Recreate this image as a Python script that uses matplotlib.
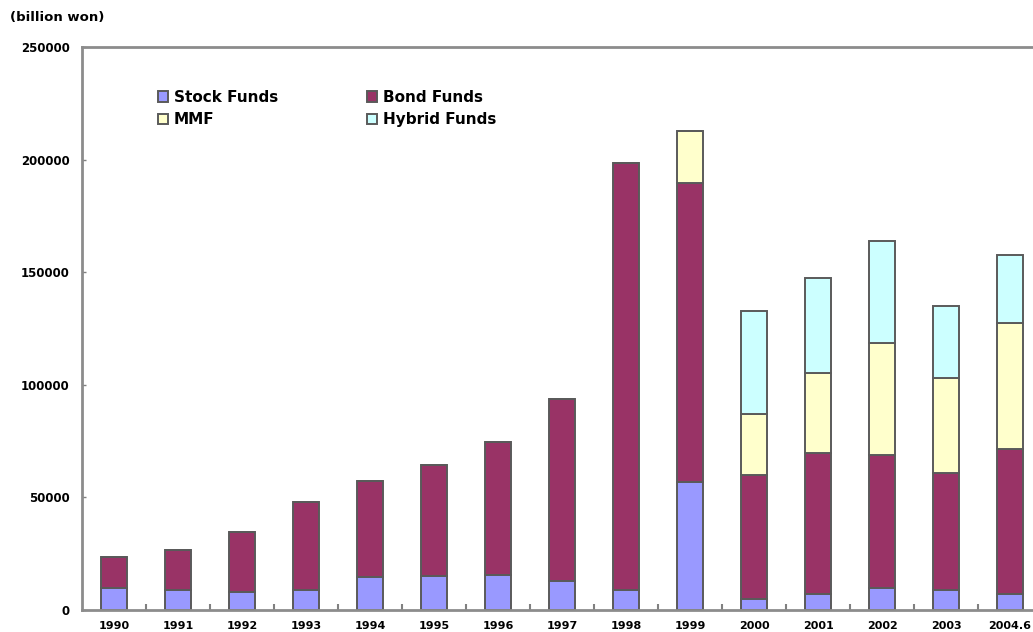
import matplotlib.pyplot as plt
import numpy as np

plt.rcParams['font.family'] = 'DejaVu Sans'
plt.rcParams['font.weight'] = 'bold'

years = ["1990", "1991", "1992", "1993", "1994", "1995", "1996", "1997",
         "1998", "1999", "2000", "2001", "2002", "2003", "2004.6"]

# fund balances, billion won
stock = [9900, 8900, 8100, 8900, 14800, 14900, 15500, 13000,
         8900, 56900, 4700, 7000, 9600, 8900, 7000]
bond = [13700, 17700, 26600, 39100, 42500, 49400, 59000, 80800,
        189800, 132700, 55400, 62700, 59400, 52000, 64500]
mmf = [0, 0, 0, 0, 0, 0, 0, 0,
       0, 23200, 26800, 35500, 49500, 42100, 55900]
hybrid = [0, 0, 0, 0, 0, 0, 0, 0,
          0, 0, 45800, 42300, 45200, 32200, 30300]

series = [("Stock Funds", stock, "#9999ff"),
          ("Bond Funds", bond, "#993366"),
          ("MMF", mmf, "#ffffcc"),
          ("Hybrid Funds", hybrid, "#ccffff")]

fig = plt.figure(figsize=(10.33, 6.32), dpi=100)
ax = fig.add_axes([82 / 1033, 22 / 632, 960 / 1033, 563 / 632])

x = np.arange(len(years))
bottom = np.zeros(len(years))
handles = {}
for name, vals, col in series:
    vals = np.array(vals, dtype=float)
    b = ax.bar(x, vals, width=0.41, bottom=bottom, color=col,
               edgecolor="#5a5a5a", linewidth=1.4, label=name)
    handles[name] = b
    bottom += vals

ax.set_xlim(-0.5, len(years) - 0.5)
ax.set_ylim(0, 250000)
ax.set_yticks([0, 50000, 100000, 150000, 200000, 250000])
ax.set_yticklabels(["0", "50000", "100000", "150000", "200000", "250000"],
                   fontsize=8.5, fontweight="bold")
ax.set_xticks(x)
ax.set_xticklabels(years, fontsize=8, fontweight="bold")
ax.set_xticks(np.arange(len(years)) + 0.5, minor=True)
ax.tick_params(axis="x", which="major", length=0, pad=8)
ax.tick_params(axis="x", which="minor", direction="in", length=4,
               color="#808080", width=1.5)
ax.tick_params(axis="y", direction="in", length=3, color="#808080",
               width=1, pad=9)

for s in ["left", "bottom", "top"]:
    ax.spines[s].set_color("#8c8c8c")
    ax.spines[s].set_linewidth(2)
ax.spines["right"].set_visible(False)

fig.text(10 / 1033, 1 - 17 / 632, "(billion won)", fontsize=9.5,
         fontweight="bold", va="center", ha="left")

order = ["Stock Funds", "MMF", "Bond Funds", "Hybrid Funds"]
fig.legend([handles[k] for k in order], order, ncol=2, frameon=False,
           loc="upper left", bbox_to_anchor=(150 / 1033, 1 - 82 / 632),
           prop={"size": 11, "weight": "bold"}, handlelength=0.7,
           handleheight=0.7, handletextpad=0.35, columnspacing=5.8,
           labelspacing=0.5, borderpad=0)

plt.savefig("out.png", dpi=100)
